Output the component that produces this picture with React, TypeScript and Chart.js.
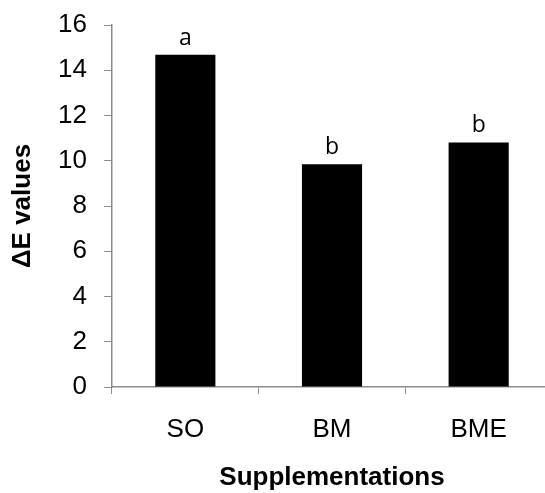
import React, { useEffect, useRef } from "react";
import { Chart, registerables } from "chart.js";

Chart.register(...registerables);

const categories = ["SO", "BM", "BME"];
const deltaE = [14.68, 9.85, 10.81];
const letters = ["a", "b", "b"];
const yTicks = [0, 2, 4, 6, 8, 10, 12, 14, 16];

const AXIS_GREY = "#8c8c8c";

const letterPlugin = {
  id: "letterLabels",
  afterDatasetsDraw(chart: any) {
    const meta = chart.getDatasetMeta(0);
    const ctx = chart.ctx;
    ctx.save();
    ctx.fillStyle = "#000";
    ctx.font = "23px 'Open Sans'";
    ctx.textAlign = "center";
    ctx.textBaseline = "alphabetic";
    meta.data.forEach((bar: any, i: number) => {
      ctx.fillText(letters[i], bar.x, bar.y - 10);
    });
    ctx.restore();
  },
};

export default function App() {
  const canvasRef = useRef<HTMLCanvasElement | null>(null);

  useEffect(() => {
    if (!canvasRef.current) return;
    const chart = new Chart(canvasRef.current, {
      type: "bar",
      data: {
        labels: categories,
        datasets: [
          {
            data: deltaE,
            backgroundColor: "#000",
            borderWidth: 0,
            barPercentage: 0.41,
            categoryPercentage: 1,
          },
        ],
      },
      options: {
        responsive: false,
        animation: false,
        layout: { padding: { left: 0, right: 8, top: 0, bottom: 0 } },
        plugins: {
          legend: { display: false },
          tooltip: { enabled: false },
        },
        scales: {
          x: {
            grid: {
              offset: true,
              drawOnChartArea: false,
              drawTicks: true,
              tickLength: 7,
              color: AXIS_GREY,
            },
            border: { color: AXIS_GREY, width: 1.5 },
            ticks: {
              color: "#000",
              padding: 20,
              font: { family: "'Liberation Sans', Arial", size: 26 },
            },
            title: {
              display: true,
              text: "Supplementations",
              color: "#000",
              padding: { top: 0, bottom: 0 },
              font: { family: "'Liberation Sans', Arial", size: 26, weight: "bold" },
            },
            afterFit(scale: any) {
              scale.height = 493 - 387;
            },
          },
          y: {
            min: 0,
            max: 16,
            afterBuildTicks(scale: any) {
              scale.ticks = yTicks.map((v) => ({ value: v }));
            },
            grid: {
              drawOnChartArea: false,
              drawTicks: true,
              tickLength: 8,
              color: AXIS_GREY,
            },
            border: { color: AXIS_GREY, width: 1.5 },
            ticks: {
              color: "#000",
              padding: 17,
              font: { family: "'Liberation Sans', Arial", size: 26 },
            },
            title: {
              display: true,
              text: "ΔE values",
              color: "#000",
              padding: { top: 7, bottom: 0 },
              font: { family: "'Liberation Sans', Arial", size: 26, weight: "bold" },
            },
            afterFit(scale: any) {
              scale.width = 112;
              scale.paddingTop = 25;
              scale.paddingBottom = 0;
            },
          },
        },
      },
      plugins: [letterPlugin],
    });
    return () => chart.destroy();
  }, []);

  return (
    <div
      style={{
        position: "absolute",
        left: 0,
        top: 0,
        width: 545,
        height: 493,
        overflow: "hidden",
        background: "#fff",
      }}
    >
      <canvas ref={canvasRef} width={560} height={493} style={{ display: "block" }} />
    </div>
  );
}
